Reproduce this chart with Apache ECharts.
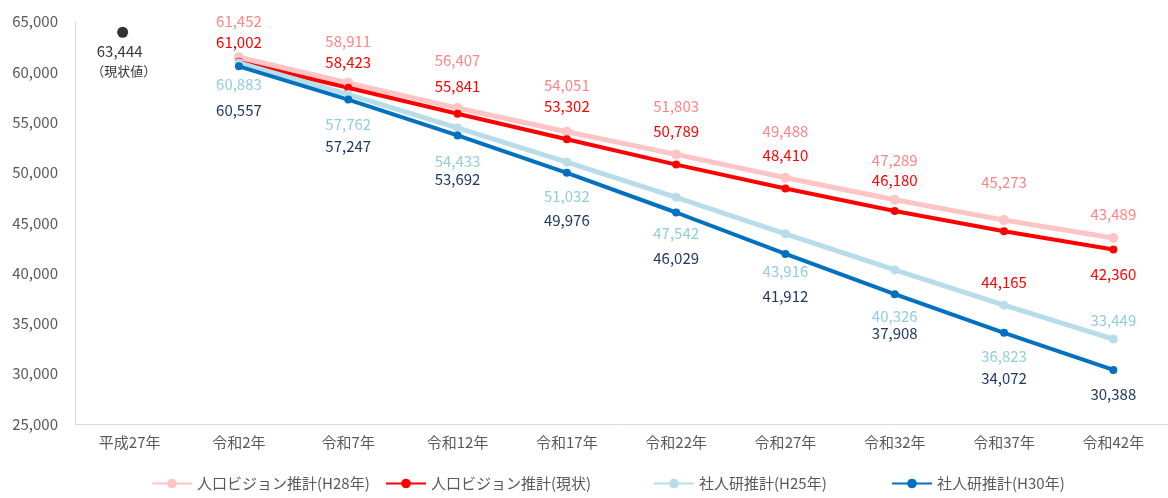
<!DOCTYPE html>
<html>
<head>
<meta charset="utf-8">
<script src="https://cdn.jsdelivr.net/npm/echarts@6/dist/echarts.min.js"></script>
<style>
  html, body { margin: 0; padding: 0; background: #fff; }
  #chart { width: 1168px; height: 498px; }
</style>
</head>
<body>
<div id="chart"></div>
<script>
const categories = ['平成27年', '令和2年', '令和7年', '令和12年', '令和17年', '令和22年', '令和27年', '令和32年', '令和37年', '令和42年'];
const visionH28 = [null, 61452, 58911, 56407, 54051, 51803, 49488, 47289, 45273, 43489];
const visionNow = [null, 61002, 58423, 55841, 53302, 50789, 48410, 46180, 44165, 42360];
const ipssH25 = [null, 60883, 57762, 54433, 51032, 47542, 43916, 40326, 36823, 33449];
const ipssH30 = [null, 60557, 57247, 53692, 49976, 46029, 41912, 37908, 34072, 30388];
const current = [63444, null, null, null, null, null, null, null, null, null];
const seriesNames = ['人口ビジョン推計(H28年)', '人口ビジョン推計(現状)', '社人研推計(H25年)', '社人研推計(H30年)'];
const yTicks = { min: 25000, max: 65000, interval: 5000 };

// label vertical offsets from the point (px), hand-placed like the original
const dyH28 = [0, -36, -42, -48, -46, -48, -46, -40, -38, -24];
const dyNow = [0, -20, -25, -27, -33, -33, -33, -31, 51, 25];
const dyH25 = [0, 21, 30, 33, 34, 36, 38, 46, 51, -19];
const dyH30 = [0, 44, 47, 44, 48, 46, 42, 39, 45, 24];
const legendLeft = [146, 380, 648, 886];

const fmt = v => v.toLocaleString('en-US');
const font = '"Noto Sans CJK JP", "Noto Sans", sans-serif';

function withLabels(values, dys, color) {
  return values.map((v, i) => v == null ? null : {
    value: v,
    label: {
      show: true,
      position: 'inside',
      offset: [0, dys[i]],
      color: color,
      fontSize: 15,
      fontFamily: font,
      formatter: p => fmt(p.value)
    }
  });
}

function lineSeries(name, values, dys, lineColor, labelColor, width, size) {
  return {
    name: name,
    type: 'line',
    data: withLabels(values, dys, labelColor),
    symbol: 'circle',
    symbolSize: size,
    lineStyle: { color: lineColor, width: width },
    itemStyle: { color: lineColor },
    z: 3
  };
}

const chart = echarts.init(document.getElementById('chart'));
chart.setOption({
  animation: false,
  textStyle: { fontFamily: font },
  grid: { left: 75, top: 21.6, width: 1095, height: 402.5, containLabel: false },
  xAxis: {
    type: 'category',
    data: categories,
    boundaryGap: true,
    axisLine: { lineStyle: { color: '#D9D9D9', width: 1 } },
    axisTick: { show: false },
    axisLabel: { color: '#595959', fontSize: 15, margin: 11, fontFamily: font }
  },
  yAxis: {
    type: 'value',
    min: yTicks.min,
    max: yTicks.max,
    interval: yTicks.interval,
    axisLine: { show: true, lineStyle: { color: '#D9D9D9', width: 1 } },
    axisTick: { show: false },
    splitLine: { show: false },
    axisLabel: { color: '#595959', fontSize: 15, margin: 17, fontFamily: font, formatter: v => fmt(v) }
  },
  legend: seriesNames.map((n, i) => ({
    data: [n],
    bottom: 2,
    left: legendLeft[i],
    itemWidth: 40,
    itemHeight: 12,
    itemGap: 4,
    textStyle: { color: '#595959', fontSize: 15, fontFamily: font }
  })),
  series: [
    lineSeries(seriesNames[0], visionH28, dyH28, '#FFC4C4', '#FF8585', 5, 10),
    lineSeries(seriesNames[1], visionNow, dyNow, '#FF0000', '#FF0000', 4, 8),
    lineSeries(seriesNames[2], ipssH25, dyH25, '#B7DEE8', '#92CDDC', 5, 9),
    lineSeries(seriesNames[3], ipssH30, dyH30, '#0070C0', '#1F3864', 4, 8),
    {
      name: '現状値',
      type: 'scatter',
      data: current,
      symbol: 'circle',
      symbolSize: 11,
      symbolOffset: [-7, -5],
      itemStyle: { color: '#000000' },
      label: {
        show: true,
        position: 'inside',
        offset: [-3, 29],
        formatter: p => '{a|' + fmt(p.value) + '}\n{b|（現状値）}',
        rich: {
          a: { color: '#000000', fontSize: 15, fontFamily: font, lineHeight: 19 },
          b: { color: '#000000', fontSize: 13, fontFamily: font, lineHeight: 19, padding: [0, 0, 0, 8] }
        }
      }
    }
  ]
});
</script>
</body>
</html>
